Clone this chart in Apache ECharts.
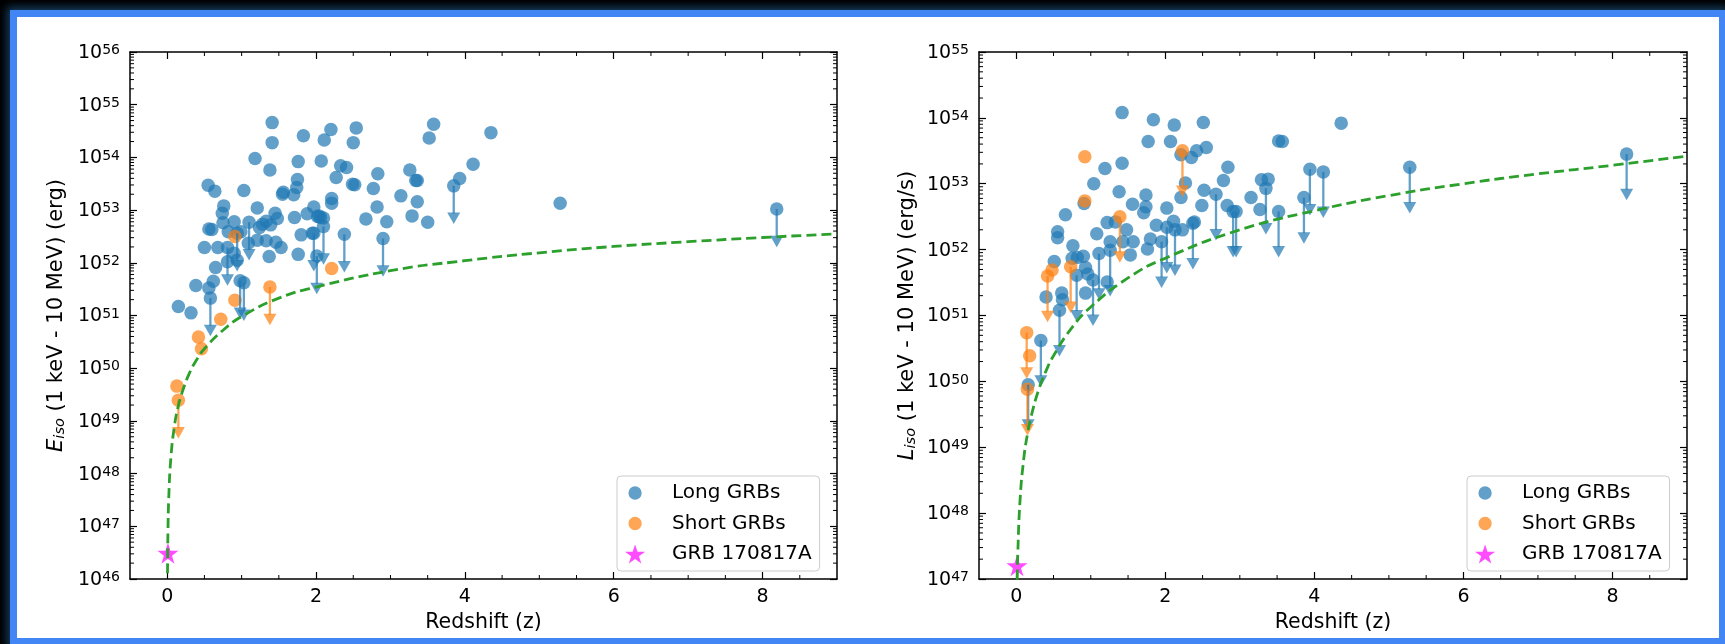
<!DOCTYPE html>
<html><head><meta charset="utf-8">
<script src="https://cdn.jsdelivr.net/npm/echarts@6/dist/echarts.min.js"></script>
<style>
html,body{margin:0;padding:0;background:#000;width:1725px;height:644px;overflow:hidden;}
#frame{position:absolute;left:10px;top:10px;width:1716px;height:635px;box-sizing:border-box;border:7px solid #4285f4;background:#fff;box-shadow:0 0 8px 3px rgba(30,90,140,0.7);}
#chart{position:absolute;left:0;top:0;width:1725px;height:644px;}
</style></head><body>
<div id="frame"></div><div id="chart"></div>
<script>
// Left panel: E_iso
const eLongZ = [1.41,1.41,1.83,2.11,2.20,2.54,2.50,3.58,3.52,4.35,
  1.18,1.38,1.76,2.07,2.33,2.41,2.27,2.49,2.52,2.83,
  2.77,3.26,3.34,3.36,4.11,3.93,3.85,0.55,0.64,1.03,
  1.56,1.55,1.75,1.74,1.70,2.21,2.21,1.21,0.76,0.74,
  0.75,0.90,1.10,1.45,1.48,1.33,1.28,1.24,1.39,1.71,
  1.88,1.97,2.02,2.10,2.04,2.67,2.82,2.95,3.14,3.36,
  3.29,3.50,0.56,0.60,0.50,0.68,0.81,0.82,0.99,0.90,
  0.81,0.94,0.94,0.65,1.09,1.21,1.33,1.46,1.53,1.37,
  1.76,1.80,1.95,1.97,2.10,2.01,2.38,2.90,0.385,0.56,
  0.62,0.58,0.15,0.32,0.98,1.03,5.28,8.19,2.06];
const eLongLog = [54.66,54.28,54.41,54.33,54.53,54.56,54.28,54.63,54.37,54.47,
  53.98,53.76,53.92,53.93,53.84,53.81,53.62,53.49,53.48,53.69,
  53.41,53.76,53.56,53.56,53.87,53.60,53.46,53.47,53.36,53.37,
  53.34,53.30,53.58,53.43,53.29,53.22,53.13,53.04,53.08,52.94,
  52.76,52.78,52.77,52.94,52.84,52.79,52.73,52.67,52.72,52.86,
  52.93,53.06,52.88,52.85,52.89,52.83,53.06,52.78,53.27,53.16,
  52.89,52.77,52.64,52.63,52.29,52.29,52.29,52.59,52.59,52.18,
  52.02,52.05,52.56,51.91,52.37,52.43,52.42,52.39,52.29,52.12,
  52.16,52.53,52.56,52.56,52.69,52.13,52.54,52.46,51.57,51.52,
  51.65,51.33,51.17,51.05,51.66,51.62,53.13,53.02,52.86];
const eLongUL = [0,0,0,0,0,0,0,0,0,0, 0,0,0,0,0,0,0,0,0,0,
  0,0,0,0,0,0,1,0,0,0, 0,0,0,0,0,0,0,0,0,0,
  0,0,1,0,0,0,0,0,0,0, 0,0,0,0,0,0,0,0,0,0,
  0,0,0,0,0,0,1,0,0,0, 0,0,1,0,0,0,0,0,0,0,
  0,0,0,1,1,1,1,1,0,0, 0,1,0,0,1,1,0,1,0];
const eShortZ = [0.13,0.15,0.42,0.46,0.72,0.91,0.91,1.38,2.21];
const eShortLog = [49.66,49.39,50.59,50.37,50.93,51.29,52.50,51.54,51.89];
const eShortUL = [0,1,0,0,0,0,0,1,0];
const eLimZ = [0.004,0.007,0.01,0.02,0.05,0.1,0.15,0.2,0.3,0.4,0.5,0.75,1,1.5,2,3,4,5,6,7,8,9];
const eLimLog = [46.11,46.59,46.91,47.51,48.31,48.93,49.29,49.54,49.91,50.17,50.37,50.72,50.98,51.33,51.54,51.85,52.04,52.19,52.31,52.40,52.48,52.55];

// Right panel: L_iso
const lLongZ = [1.42,1.84,2.12,2.51,4.36,1.77,2.07,3.52,3.57,2.42,
  2.55,2.35,2.21,1.42,1.19,1.04,1.38,0.66,0.91,0.555,
  0.555,0.51,0.40,0.61,0.58,0.33,0.16,0.76,0.75,0.82,
  0.90,0.81,0.93,0.96,1.03,0.93,0.62,1.08,1.11,1.26,
  1.26,1.22,1.22,1.33,1.48,1.43,1.57,1.53,1.56,1.74,
  1.74,1.71,1.80,1.76,1.88,2.02,2.02,1.95,2.11,2.13,
  2.23,2.21,2.27,2.37,2.39,2.49,2.52,2.68,2.84,2.78,
  2.83,2.91,2.95,3.15,3.27,3.29,3.38,3.35,3.52,3.86,
  3.94,4.12,5.28,8.19];
const lLongLog = [54.08,53.97,53.89,53.93,53.92,53.64,53.64,53.65,53.64,53.50,
  53.55,53.40,53.44,53.31,53.23,53.00,52.88,52.53,52.70,52.27,
  52.18,51.82,51.28,51.34,51.08,50.62,49.95,52.06,51.87,51.88,
  51.90,51.61,51.73,51.63,51.54,51.34,51.24,52.24,51.94,52.12,
  51.99,51.51,52.41,52.42,52.30,52.12,52.12,51.92,52.69,52.83,
  52.65,52.56,52.16,52.01,52.37,52.63,52.34,52.12,52.43,52.30,
  52.30,52.79,53.01,52.40,52.42,52.67,52.90,52.84,53.25,53.05,
  52.67,52.58,52.58,52.79,52.61,53.06,53.07,52.93,52.58,52.79,
  53.22,53.18,53.25,53.45];
const lLongUL = [0,0,0,0,0,0,0,0,0,0, 0,0,0,0,0,0,0,0,0,0,
  0,0,0,0,1,1,1,0,0,0, 0,1,0,0,1,0,0,0,1,0,
  1,0,0,0,0,0,0,0,0,0, 0,0,0,0,0,0,1,1,0,1,
  0,0,0,1,0,0,0,1,0,0, 0,1,1,0,0,0,0,1,1,1,
  1,1,1,1];
const lShortZ = [0.14,0.18,0.15,0.42,0.48,0.73,0.92,0.92,1.39,2.23];
const lShortLog = [50.74,50.39,49.88,51.60,51.69,51.74,53.41,52.74,52.50,53.50];
const lShortUL = [1,0,1,1,0,1,0,0,1,1];
const lLimZ = [0.01,0.015,0.02,0.05,0.1,0.15,0.2,0.3,0.4,0.5,0.75,1,1.5,2,3,4,5,6,7,8,9];
const lLimLog = [46.76,47.11,47.37,48.18,48.82,49.20,49.47,49.87,50.16,50.39,50.82,51.13,51.57,51.87,52.30,52.59,52.82,53.00,53.15,53.28,53.42];

// GRB 170817A
const gwZ = 0.0098;
const gwELog = 46.49;
const gwLLog = 47.2;

// ticks
const xMajor = [0,2,4,6,8];
const xMinor = [0.5,1,1.5,2.5,3,3.5,4.5,5,5.5,6.5,7,7.5,8.5];
const legendNames = ['Long GRBs','Short GRBs','GRB 170817A'];

// ---------------- STYLE ----------------
const FONT = 'DejaVu Sans';
const BLUE = '#1f77b4', ORANGE = '#ff7f0e', MAG = '#ff00ff', GREEN = '#2ca02c';
const STAR = 'path://M50,0L61.8,35.3L99,35.3L68.9,57.1L80.3,92.4L50,70.5L19.7,92.4L31.1,57.1L1,35.3L38.2,35.3Z';
// legend circle drawn inside a padded box so it is smaller than the star icon
const LEG_CIRCLE = 'path://M0,0L0.01,0M100,100L99.99,100M85,50A35,35 0 1 1 15,50A35,35 0 1 1 85,50Z';

const panels = [
  {left:130, width:707, minExp:46, maxExp:56, name:'{i|E}{s|iso} (1 keV - 10 MeV) (erg)', nameGap:61,
   longZ:eLongZ, longLog:eLongLog, longUL:eLongUL, shortZ:eShortZ, shortLog:eShortLog, shortUL:eShortUL,
   gwLog:gwELog, limZ:eLimZ, limLog:eLimLog, legendLeft:617},
  {left:979, width:708, minExp:47, maxExp:55, name:'{i|L}{s|iso} (1 keV - 10 MeV) (erg/s)', nameGap:59,
   longZ:lLongZ, longLog:lLongLog, longUL:lLongUL, shortZ:lShortZ, shortLog:lShortLog, shortUL:lShortUL,
   gwLog:gwLLog, limZ:lLimZ, limLog:lLimLog, legendLeft:1467}
];

const pts = (z, lg) => z.map((v,i) => [v, Math.pow(10, lg[i])]);
const ulPts = (z, lg, ul) => {
  const out = [];
  z.forEach((v,i) => { if (ul[i]) out.push([v, Math.pow(10, lg[i]), Math.pow(10, lg[i]) / 4]); });
  return out;
};

const grid = [], xAxis = [], yAxis = [], series = [], legend = [];
const axisLineStyle = {color:'#000', width:1.5};
const tickStyle = {color:'#000', width:1.2};

panels.forEach((p, g) => {
  grid.push({left:p.left, top:52, width:p.width, height:527});
  const yMajor = [];
  for (let e = p.minExp; e <= p.maxExp; e++) {
    let v = Number('1e' + e);
    if (e === p.maxExp) v *= 0.999999;
    if (e === p.minExp) v *= 1.000001;
    yMajor.push(v);
  }
  const yMinor = [];
  for (let e = p.minExp; e < p.maxExp; e++) for (let k = 2; k <= 9; k++) yMinor.push(k * Number('1e' + e));
  const yMin = Number('1e' + p.minExp), yMax = Number('1e' + p.maxExp);

  xAxis.push({
    gridIndex:g, type:'value', min:-0.5, max:9, interval:0.5, position:'bottom',
    axisLine:{show:true, onZero:false, lineStyle:axisLineStyle},
    axisTick:{show:true, inside:true, length:7, customValues:xMajor, lineStyle:tickStyle},
    axisLabel:{show:true, customValues:xMajor, margin:9, fontSize:19, fontFamily:FONT, color:'#000',
      formatter: v => (Math.abs(v - Math.round(v/2)*2) < 1e-9 ? String(Math.round(v)) : '')},
    splitLine:{show:false},
    name:'Redshift (z)', nameLocation:'middle', nameGap:33,
    nameTextStyle:{fontSize:20.5, fontFamily:FONT, color:'#000'}
  });
  xAxis.push({
    gridIndex:g, type:'value', min:-0.5, max:9, interval:0.5, position:'top',
    axisLine:{show:true, onZero:false, lineStyle:axisLineStyle},
    axisTick:{show:true, inside:true, length:7, customValues:xMajor, lineStyle:tickStyle},
    axisLabel:{show:false}, splitLine:{show:false}
  });
  yAxis.push({
    gridIndex:g, type:'log', logBase:10, min:yMin, max:yMax, interval:1, position:'left',
    axisLine:{show:true, onZero:false, lineStyle:axisLineStyle},
    axisTick:{show:true, inside:true, length:7, customValues:yMajor, lineStyle:tickStyle},
    axisLabel:{show:true, customValues:yMajor, margin:10, color:'#000',
      formatter: v => '{b|10}{s|' + Math.round(Math.log10(v)) + '}',
      rich:{
        b:{fontSize:19, fontFamily:FONT, color:'#000', lineHeight:19, padding:[4.5,0,2.5,0]},
        s:{fontSize:14, fontFamily:FONT, color:'#000', lineHeight:14, verticalAlign:'top', padding:[1,0,11,0]}
      }},
    splitLine:{show:false},
    name:p.name, nameLocation:'middle', nameGap:p.nameGap, nameRotate:90,
    nameTextStyle:{fontSize:21, fontFamily:FONT, color:'#000', lineHeight:24,
      rich:{
        i:{fontSize:21, fontFamily:FONT, fontStyle:'italic', color:'#000', lineHeight:24},
        s:{fontSize:14.5, fontFamily:FONT, fontStyle:'italic', color:'#000', lineHeight:14, verticalAlign:'bottom', padding:[0,0,1,0]}
      }}
  });
  yAxis.push({
    gridIndex:g, type:'log', logBase:10, min:yMin, max:yMax, interval:1, position:'right',
    axisLine:{show:true, onZero:false, lineStyle:axisLineStyle},
    axisTick:{show:true, inside:true, length:7, customValues:yMajor, lineStyle:tickStyle},
    axisLabel:{show:false}, splitLine:{show:false}
  });

  const xi = g*2, yi = g*2;
  // minor ticks (log decades 2..9 and x every 0.5), positioned through the axes
  series.push({
    type:'custom', name:'yminor'+g, xAxisIndex:xi, yAxisIndex:yi, silent:true, clip:false, z:5,
    data: yMinor.map(v => [0, v]),
    renderItem:(params, api) => {
      const v = api.value(1);
      const a = api.coord([-0.5, v]), b = api.coord([9, v]);
      return {type:'group', children:[
        {type:'line', shape:{x1:a[0], y1:a[1], x2:a[0]+4, y2:a[1]}, style:{stroke:'#000', lineWidth:1}},
        {type:'line', shape:{x1:b[0], y1:b[1], x2:b[0]-4, y2:b[1]}, style:{stroke:'#000', lineWidth:1}}
      ]};
    }
  });
  series.push({
    type:'custom', name:'xminor'+g, xAxisIndex:xi, yAxisIndex:yi, silent:true, clip:false, z:5,
    data: xMinor.map(v => [v, yMin*10]),
    renderItem:(params, api) => {
      const v = api.value(0);
      const a = api.coord([v, yMin]), b = api.coord([v, yMax]);
      return {type:'group', children:[
        {type:'line', shape:{x1:a[0], y1:a[1], x2:a[0], y2:a[1]-4}, style:{stroke:'#000', lineWidth:1}},
        {type:'line', shape:{x1:b[0], y1:b[1], x2:b[0], y2:b[1]+4}, style:{stroke:'#000', lineWidth:1}}
      ]};
    }
  });
  // scatter
  series.push({type:'scatter', name:'Long GRBs', xAxisIndex:xi, yAxisIndex:yi, symbol:'circle', symbolSize:13.5,
    itemStyle:{color:BLUE, opacity:0.7}, data:pts(p.longZ, p.longLog), z:2, silent:true});
  series.push({type:'scatter', name:'Short GRBs', xAxisIndex:xi, yAxisIndex:yi, symbol:'circle', symbolSize:13.5,
    itemStyle:{color:ORANGE, opacity:0.7}, data:pts(p.shortZ, p.shortLog), z:2, silent:true});
  // upper-limit arrows
  const arrow = (color) => (params, api) => {
    const a = api.coord([api.value(0), api.value(1)]);
    const b = api.coord([api.value(0), api.value(2)]);
    return {type:'group', children:[
      {type:'line', shape:{x1:a[0], y1:a[1], x2:b[0], y2:b[1]-4}, style:{stroke:color, lineWidth:2.3, opacity:0.7}},
      {type:'polygon', shape:{points:[[b[0]-6.5, b[1]-5],[b[0]+6.5, b[1]-5],[b[0], b[1]+6.5]]}, style:{fill:color, opacity:0.7}}
    ]};
  };
  series.push({type:'custom', name:'Long UL'+g, xAxisIndex:xi, yAxisIndex:yi, silent:true, clip:false, z:3,
    encode:{x:0, y:[1,2]}, data:ulPts(p.longZ, p.longLog, p.longUL), renderItem:arrow(BLUE)});
  series.push({type:'custom', name:'Short UL'+g, xAxisIndex:xi, yAxisIndex:yi, silent:true, clip:false, z:3,
    encode:{x:0, y:[1,2]}, data:ulPts(p.shortZ, p.shortLog, p.shortUL), renderItem:arrow(ORANGE)});
  // detection-limit curve
  series.push({type:'line', name:'limit'+g, xAxisIndex:xi, yAxisIndex:yi, silent:true, showSymbol:false,
    smooth:0.5, clip:true, z:4,
    lineStyle:{color:GREEN, width:2.8, type:[10,5]}, data:pts(p.limZ, p.limLog)});
  // GRB 170817A
  series.push({type:'scatter', name:'GRB 170817A', xAxisIndex:xi, yAxisIndex:yi, symbol:STAR, symbolSize:21,
    itemStyle:{color:MAG, opacity:0.7}, data:[[gwZ, Math.pow(10, p.gwLog)]], z:3, silent:true});

  legend.push({
    left:p.legendLeft, top:476, orient:'vertical', selectedMode:false,
    data:[{name:legendNames[0], icon:LEG_CIRCLE}, {name:legendNames[1], icon:LEG_CIRCLE}, {name:legendNames[2], icon:STAR}],
    backgroundColor:'rgba(255,255,255,0.8)', borderColor:'#cccccc', borderWidth:1, borderRadius:4,
    padding:[6,8,6,8], itemWidth:40, itemHeight:19, itemGap:8.5,
    textStyle:{fontSize:20, fontFamily:FONT, color:'#000', lineHeight:22, padding:[0,0,0,12]}
  });
});

const chart = echarts.init(document.getElementById('chart'), null, {renderer:'canvas'});
chart.setOption({animation:false, backgroundColor:'transparent', grid, xAxis, yAxis, series, legend});
</script></body></html>
